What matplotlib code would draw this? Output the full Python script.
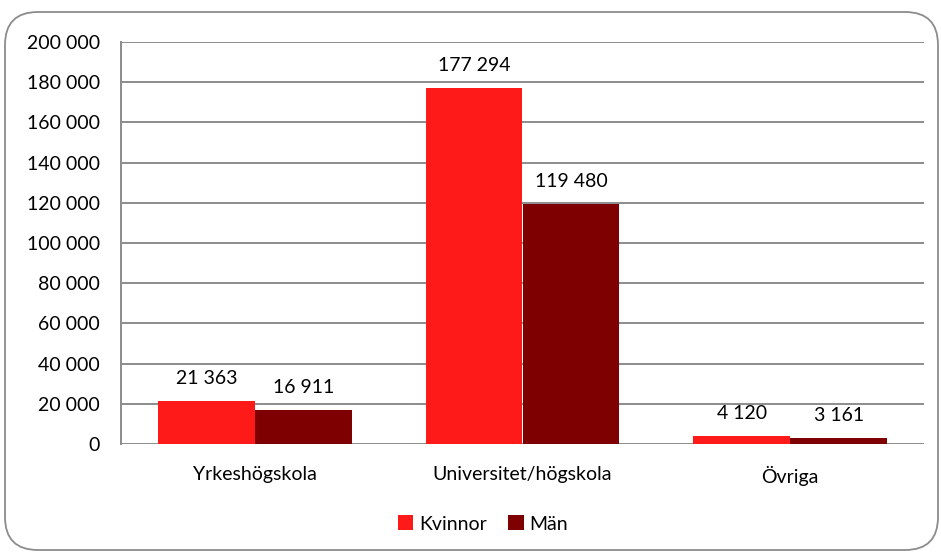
import matplotlib
matplotlib.use("Agg")
import matplotlib.pyplot as plt
import numpy as np
from matplotlib.patches import FancyBboxPatch

plt.rcParams['font.family'] = ['Lato', 'DejaVu Sans']

categories = ["Yrkeshögskola", "Universitet/högskola", "Övriga"]
kvinnor = [21363, 177294, 4120]
man = [16911, 119480, 3161]
series_names = ["Kvinnor", "Män"]
yticks = list(range(0, 200001, 20000))

FS = 14


def fmt(v):
    return f"{v:,}".replace(",", " ")


fig = plt.figure(figsize=(9.41, 5.56), dpi=100)
frame = FancyBboxPatch((5 / 941, 6 / 556), 933 / 941, 538 / 556,
                       boxstyle="round,pad=0,rounding_size=0.035",
                       transform=fig.transFigure, facecolor="white",
                       edgecolor="#8c8c8c", linewidth=1.3,
                       mutation_aspect=941 / 556, zorder=-5)
fig.patches.append(frame)

ax = fig.add_axes([121 / 941, 112 / 556, 803 / 941, 402 / 556])
ax.set_facecolor("none")

x = np.arange(len(categories))
w = 0.362
b1 = ax.bar(x - w / 2, kvinnor, w, color="#ff1a1a", label=series_names[0], zorder=3)
b2 = ax.bar(x + w / 2, man, w, color="#7f0000", label=series_names[1], zorder=3)

for bars, vals in ((b1, kvinnor), (b2, man)):
    for r, v in zip(bars, vals):
        ax.text(r.get_x() + r.get_width() / 2, v + 7000, fmt(v),
                ha="center", va="bottom", fontsize=FS, color="black")

ax.set_xlim(-0.5, 2.5)
ax.set_ylim(0, 200000)
ax.set_yticks(yticks)
ax.set_yticklabels([fmt(t) for t in yticks], fontsize=FS)
ax.set_xticks(x)
ax.set_xticklabels(categories, fontsize=FS)
ax.tick_params(axis="both", length=0)
ax.tick_params(axis="y", pad=15)
ax.tick_params(axis="x", pad=16)
ax.grid(axis="y", color="#8c8c8c", linewidth=1.4, zorder=0)
for s in ["top", "right", "bottom"]:
    ax.spines[s].set_visible(False)
ax.spines["left"].set_color("#8c8c8c")
ax.spines["left"].set_linewidth(1.4)

fig.legend(handles=[b1, b2], labels=series_names, loc="center",
           bbox_to_anchor=(483 / 941, 1 - 524 / 556), ncol=2, frameon=False,
           fontsize=FS, handlelength=0.8, handleheight=0.8,
           handletextpad=0.3, columnspacing=1.1)

fig.savefig("out.png", dpi=100)
